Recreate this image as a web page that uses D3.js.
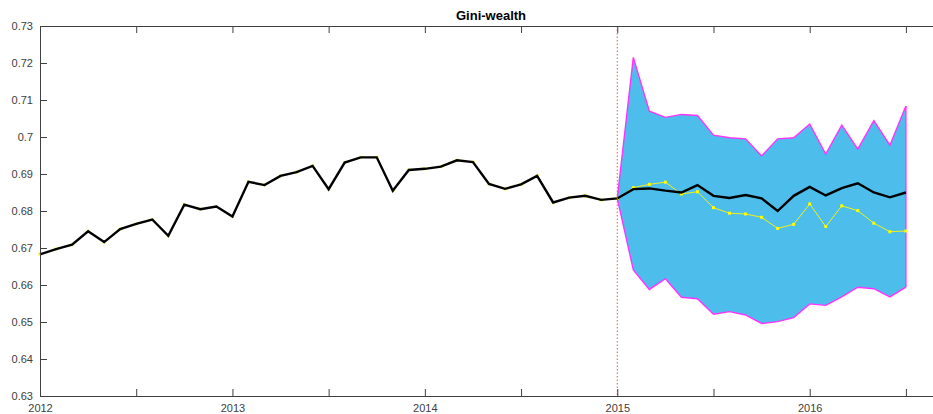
<!DOCTYPE html>
<html>
<head>
<meta charset="utf-8">
<script src="https://cdn.jsdelivr.net/npm/d3@7/dist/d3.min.js"></script>
<style>
  html, body { margin: 0; padding: 0; background: #fff; }
  svg { display: block; }
  .axis text { font-family: "Liberation Sans", Arial, sans-serif; font-size: 11px; fill: #404040; }
  .axis path, .axis line { stroke: #404040; }
</style>
</head>
<body>
<svg id="chart" width="933" height="414"></svg>
<script>
// Monthly Gini coefficient of wealth, observed history from Jan 2012 to Jan 2015
const startYear = 2012;
const history = [
  0.6683, 0.6697, 0.6709, 0.6745, 0.6716, 0.6751, 0.6765, 0.6777, 0.6733, 0.6817, 0.6805, 0.6812,
  0.6785, 0.6879, 0.6870, 0.6895, 0.6905, 0.6922, 0.6859, 0.6931, 0.6945, 0.6945, 0.6855, 0.6911,
  0.6914, 0.6920, 0.6937, 0.6932, 0.6873, 0.6860, 0.6872, 0.6895, 0.6823, 0.6836, 0.6841, 0.6830,
  0.6834
];
// Realised values after the forecast origin, Feb 2015 to Jul 2016
const realised = [
  0.6863, 0.6872, 0.6878, 0.6846, 0.6852, 0.6809, 0.6794, 0.6792, 0.6783, 0.6753, 0.6764, 0.6819,
  0.6758, 0.6814, 0.6801, 0.6767, 0.6744, 0.6746
];
// Forecast from Jan 2015 to Jul 2016: median path and interval bounds
const forecastMedian = [
  0.6834, 0.6859, 0.6861, 0.6855, 0.6850, 0.6870, 0.6841, 0.6835, 0.6843, 0.6834, 0.6800, 0.6841,
  0.6865, 0.6842, 0.6862, 0.6875, 0.6850, 0.6837, 0.6850
];
const bandUpper = [
  0.6834, 0.7215, 0.7070, 0.7053, 0.7061, 0.7058, 0.7005, 0.6998, 0.6995, 0.6949, 0.6995, 0.6998,
  0.7035, 0.6954, 0.7032, 0.6967, 0.7044, 0.6978, 0.7084
];
const bandLower = [
  0.6834, 0.6641, 0.6588, 0.6617, 0.6567, 0.6563, 0.6521, 0.6528, 0.6519, 0.6496, 0.6501, 0.6512,
  0.6549, 0.6545, 0.6568, 0.6594, 0.6590, 0.6568, 0.6594
];
const forecastOrigin = 2015;
const xTickValues = [2012, 2012.5, 2013, 2013.5, 2014, 2014.5, 2015, 2015.5, 2016, 2016.5];
const yTickValues = [0.63, 0.64, 0.65, 0.66, 0.67, 0.68, 0.69, 0.70, 0.71, 0.72, 0.73];
const title = "Gini-wealth";

const svg = d3.select("#chart");
const margin = { left: 40, top: 26, right: 942, bottom: 396 };

const x = d3.scaleLinear().domain([2012, 2016.6875]).range([margin.left, margin.right]);
const y = d3.scaleLinear().domain([0.63, 0.73]).range([margin.bottom, margin.top]);

// series as [decimal year, value]
const histPts = history.map((v, i) => [startYear + i / 12, v]);
const realPts = realised.map((v, i) => [forecastOrigin + (i + 1) / 12, v]);
const medPts = forecastMedian.map((v, i) => [forecastOrigin + i / 12, v]);
const bandPts = bandUpper.map((u, i) => ({ t: forecastOrigin + i / 12, u, l: bandLower[i] }));

// forecast interval fill
svg.append("path")
  .datum(bandPts)
  .attr("fill", "#4dbeeb")
  .attr("stroke", "none")
  .attr("d", d3.area().x(d => x(d.t)).y0(d => y(d.l)).y1(d => y(d.u)));

// interval outline (upper, lower, closing edge)
const edge = d3.line().x(d => x(d[0])).y(d => y(d[1]));
const outline = (pts) => svg.append("path")
  .datum(pts)
  .attr("fill", "none").attr("stroke", "#ff33ff").attr("stroke-width", 1.4)
  .attr("d", edge);
outline(bandPts.map(d => [d.t, d.u]));
outline(bandPts.map(d => [d.t, d.l]));
const lastBand = bandPts[bandPts.length - 1];
outline([[lastBand.t, lastBand.u], [lastBand.t, lastBand.l]]);

// observed series in yellow with square markers (history + realised)
const allObserved = histPts.concat(realPts);
svg.append("path")
  .datum(allObserved)
  .attr("fill", "none").attr("stroke", "#f0f020").attr("stroke-width", 1)
  .attr("d", edge);
svg.append("g").selectAll("rect")
  .data(allObserved)
  .join("rect")
  .attr("x", d => x(d[0]) - 1.5).attr("y", d => y(d[1]) - 1.5)
  .attr("width", 3).attr("height", 3)
  .attr("fill", "#ffff00");

// history and forecast median in black
svg.append("path")
  .datum(histPts.concat(medPts.slice(1)))
  .attr("fill", "none").attr("stroke", "#000").attr("stroke-width", 2.4)
  .attr("stroke-linejoin", "miter")
  .attr("d", edge);

// forecast origin marker
svg.append("line")
  .attr("x1", x(forecastOrigin)).attr("x2", x(forecastOrigin))
  .attr("y1", margin.top).attr("y2", margin.bottom)
  .attr("stroke", "#ff5050").attr("stroke-width", 1)
  .attr("stroke-dasharray", "1.5,2");

// axes
const yearFmt = d => (Number.isInteger(d) ? String(d) : "");
svg.append("g").attr("class", "axis")
  .attr("transform", `translate(0,${margin.bottom})`)
  .call(d3.axisBottom(x).tickValues(xTickValues).tickFormat(yearFmt).tickSizeInner(-7).tickSizeOuter(0).tickPadding(8));
svg.append("g").attr("class", "axis")
  .attr("transform", `translate(0,${margin.top})`)
  .call(d3.axisTop(x).tickValues(xTickValues).tickFormat("").tickSizeInner(-7).tickSizeOuter(0));
svg.append("g").attr("class", "axis")
  .attr("transform", `translate(${margin.left},0)`)
  .call(d3.axisLeft(y).tickValues(yTickValues).tickFormat(d => String(+d.toFixed(2))).tickSizeInner(-7).tickSizeOuter(0).tickPadding(7));
svg.selectAll(".axis .domain").attr("stroke-width", 1);

// title
svg.append("text")
  .attr("x", (margin.left + margin.right) / 2).attr("y", 20)
  .attr("text-anchor", "middle")
  .attr("font-family", "Liberation Sans, Arial, sans-serif")
  .attr("font-size", 13).attr("font-weight", "bold").attr("fill", "#000")
  .text(title);
</script>
</body>
</html>
